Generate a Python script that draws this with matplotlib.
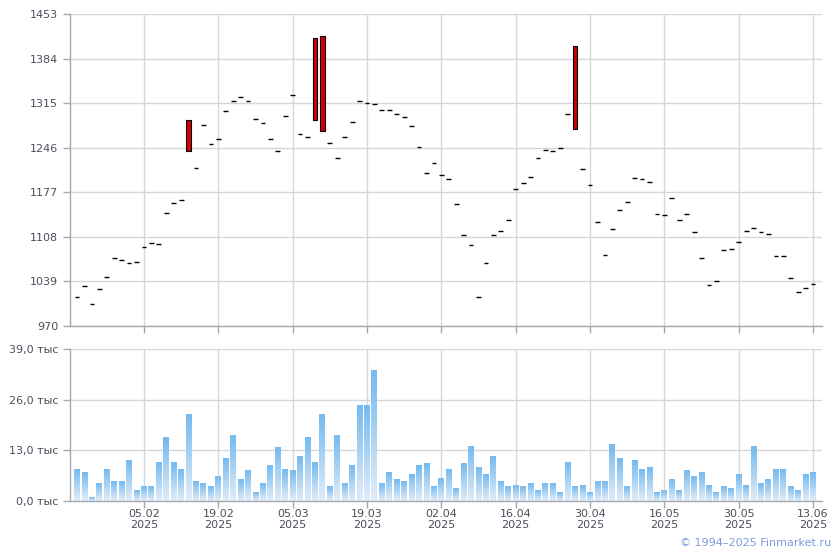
import numpy as np
import matplotlib
matplotlib.use("Agg")
import matplotlib.pyplot as plt
from matplotlib.colors import LinearSegmentedColormap

# --- данные (по индексу торгового дня) ---
# цены закрытия для "черточек" (open == close)
close = [1014.9, 1031.9, 1004.1, 1027.3, 1045.9, 1075.3, 1072.2, 1067.1, 1068.6, 1091.8,
         1098.0, 1096.5, 1144.9, 1160.4, 1164.6, None, 1214.1, 1280.6, 1251.2, 1259.0,
         1302.3, 1318.3, 1324.0, 1318.3, 1290.5, 1283.8, 1259.0, 1240.5, 1294.6, 1327.1,
         1266.7, 1262.1, None, None, 1252.8, 1229.6, 1262.1, 1285.3, 1317.8, 1314.8,
         1313.2, 1303.9, 1303.9, 1297.7, 1293.1, 1279.2, 1246.6, 1206.4, 1221.9, 1203.3,
         1197.1, 1158.4, 1110.4, 1095.0, 1014.4, 1067.1, 1110.4, 1116.6, 1133.6, 1181.6,
         1190.9, 1200.2, 1229.6, 1242.0, 1240.5, 1245.1, 1297.7, None, 1212.6, 1187.8,
         1130.6, 1079.5, 1119.7, 1149.1, 1161.5, 1198.7, 1197.1, 1192.5, 1142.9, 1141.4,
         1167.7, 1133.6, 1142.9, 1115.1, 1074.8, 1033.0, 1039.2, 1087.2, 1088.8, 1099.6,
         1116.6, 1121.3, 1115.1, 1112.0, 1077.9, 1077.9, 1043.9, 1022.2, 1028.4, 1034.6]

# свечи с диапазоном (индекс, низ, верх)
candle_idx = [15, 32, 33, 67]
candle_low = [1240.5, 1288.4, 1271.4, 1274.5]
candle_high = [1288.4, 1415.4, 1418.5, 1403.0]

# объем, тыс.
volume = [8.2, 7.4, 1.0, 4.6, 8.0, 5.1, 5.1, 10.3, 2.8, 3.8,
          3.8, 9.8, 16.4, 10.0, 8.2, 22.3, 5.1, 4.4, 3.8, 6.2,
          10.8, 16.9, 5.4, 7.7, 2.3, 4.6, 9.0, 13.6, 8.0, 7.7,
          11.3, 16.4, 9.8, 22.1, 3.6, 16.7, 4.4, 9.2, 24.4, 24.6,
          33.6, 4.6, 7.2, 5.6, 4.9, 6.9, 9.2, 9.5, 3.8, 5.9,
          8.2, 3.3, 9.5, 13.9, 8.5, 6.7, 11.3, 4.9, 3.8, 4.1,
          3.6, 4.6, 2.8, 4.6, 4.4, 2.3, 10.0, 3.8, 4.1, 2.3,
          4.9, 5.1, 14.6, 10.8, 3.8, 10.5, 8.2, 8.7, 2.1, 2.8,
          5.6, 2.8, 7.7, 6.4, 7.4, 4.1, 2.3, 3.8, 3.1, 6.7,
          4.1, 13.9, 4.4, 5.6, 8.2, 8.2, 3.6, 2.6, 6.7, 7.2]

date_tick_idx = [9, 19, 29, 39, 49, 59, 69, 79, 89, 99]
date_tick_labels = ["05.02\n2025", "19.02\n2025", "05.03\n2025", "19.03\n2025", "02.04\n2025",
                    "16.04\n2025", "30.04\n2025", "16.05\n2025", "30.05\n2025", "13.06\n2025"]
price_ticks = [970, 1039, 1108, 1177, 1246, 1315, 1384, 1453]
vol_ticks = [0, 13, 26, 39]

TXT = "#4a4f5c"
GRID = "#d3d7dc"
SPINE = "#a3a8b0"

fig = plt.figure(figsize=(8.4, 5.5), dpi=100)
ax1 = fig.add_axes([70/840, 1-326/550, 752/840, 312/550])
ax2 = fig.add_axes([70/840, 1-501/550, 752/840, 152/550])

x = np.arange(len(close))
xlim = (-0.95, 100.2)

def style(ax):
    for s in ["top", "right"]:
        ax.spines[s].set_visible(False)
    for s in ["left", "bottom"]:
        ax.spines[s].set_color(SPINE)
        ax.spines[s].set_linewidth(1.0)
    ax.grid(True, color=GRID, linewidth=1.0)
    ax.set_axisbelow(True)
    ax.tick_params(colors=SPINE, labelcolor=TXT, labelsize=8, length=5, width=1)
    ax.set_xlim(*xlim)
    ax.set_xticks(date_tick_idx)

# --- цена ---
style(ax1)
xs = [i for i, c in enumerate(close) if c is not None]
ys = [c for c in close if c is not None]
ax1.hlines(ys, np.array(xs) - 0.32, np.array(xs) + 0.32, color="black", linewidth=1.0, zorder=3)
ax1.bar(candle_idx, np.array(candle_high) - np.array(candle_low), bottom=candle_low,
        width=0.6, color="#d00000", edgecolor="black", linewidth=0.8, zorder=3)
ax1.set_ylim(970, 1453)
ax1.set_yticks(price_ticks)
ax1.set_xticklabels([])

# --- объем (градиент в каждом столбике) ---
style(ax2)
cmap = LinearSegmentedColormap.from_list("vol", ["#e2edf8", "#74baf0"])
grad = np.linspace(0, 1, 128).reshape(-1, 1)
for i, v in enumerate(volume):
    ax2.imshow(grad, cmap=cmap, origin="lower", aspect="auto",
               extent=(i - 0.4, i + 0.4, 0, v), zorder=2, interpolation="bilinear")
ax2.set_xlim(*xlim)
ax2.set_ylim(0, 39)
ax2.set_yticks(vol_ticks)
ax2.set_yticklabels([f"{v:.1f}".replace(".", ",") + " тыс" for v in vol_ticks])
ax2.set_xticklabels(date_tick_labels, linespacing=1.1)
ax2.tick_params(axis="x", pad=1)

fig.text(831/840, 1-543/550, "© 1994–2025 Finmarket.ru", ha="right", va="center",
         fontsize=8, color="#7d9be0")

fig.savefig("out.png", dpi=100)
